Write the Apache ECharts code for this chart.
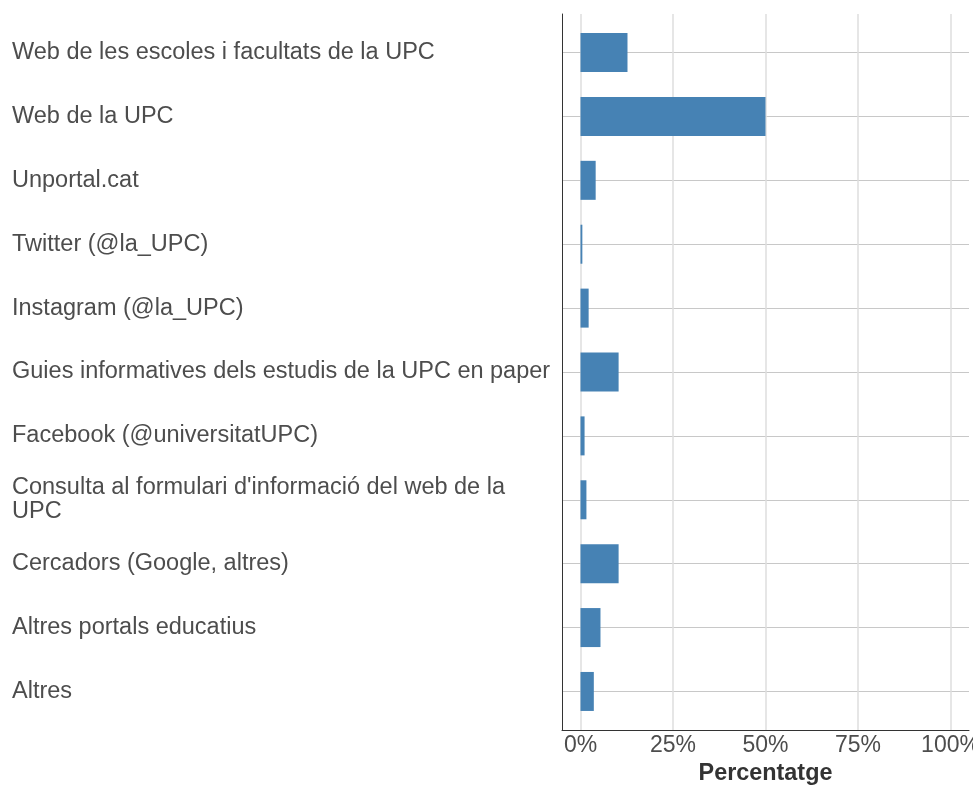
<!DOCTYPE html>
<html>
<head>
<meta charset="utf-8">
<script src="https://cdn.jsdelivr.net/npm/echarts@6/dist/echarts.min.js"></script>
<style>
  html, body { margin: 0; padding: 0; background: #fff; }
  #chart { width: 973px; height: 785px; }
</style>
</head>
<body>
<div id="chart"></div>
<script>
var categories = [
  'Web de les escoles i facultats de la UPC',
  'Web de la UPC',
  'Unportal.cat',
  'Twitter (@la_UPC)',
  'Instagram (@la_UPC)',
  'Guies informatives dels estudis de la UPC en paper',
  'Facebook (@universitatUPC)',
  "Consulta al formulari d'informació del web de la UPC",
  'Cercadors (Google, altres)',
  'Altres portals educatius',
  'Altres'
];
var percentValues = [12.7, 50, 4.1, 0.5, 2.2, 10.3, 1.1, 1.6, 10.3, 5.4, 3.6];
var xTicks = [0, 25, 50, 75, 100];

var font = '"Liberation Sans", Arial, sans-serif';
var chart = echarts.init(document.getElementById('chart'));

var option = {
  animation: false,
  textStyle: { fontFamily: font },
  grid: [
    // outer frame: axis lines, x ticks
    { left: 562, right: 4, top: 14, bottom: 55, containLabel: false, outerBoundsMode: 'none' },
    // bars + categories (inset by the discrete axis padding)
    { left: 562, right: 4, top: 20.6, bottom: 61.6, containLabel: false, outerBoundsMode: 'none' }
  ],
  xAxis: [{
    gridIndex: 0,
    type: 'value',
    min: -5,
    max: 105,
    axisLine: { show: true, onZero: false, lineStyle: { color: '#333', width: 1 } },
    axisTick: { show: false, customValues: xTicks },
    axisLabel: {
      customValues: xTicks,
      formatter: '{value}%',
      color: '#4d4d4d',
      fontSize: 23,
      margin: 4
    },
    splitLine: { show: true, lineStyle: { color: '#dedede', width: 1.5 } },
    name: 'Percentatge',
    nameLocation: 'middle',
    nameGap: 31,
    nameTextStyle: { color: '#333', fontSize: 23.4, fontWeight: 'bold' }
  }, {
    gridIndex: 1,
    type: 'value',
    min: -5,
    max: 105,
    show: false
  }],
  yAxis: [{
    gridIndex: 0,
    type: 'value',
    min: 0,
    max: 1,
    axisLine: { show: true, onZero: false, lineStyle: { color: '#333', width: 1 } },
    axisTick: { show: false },
    axisLabel: { show: false },
    splitLine: { show: false }
  }, {
    gridIndex: 1,
    type: 'category',
    inverse: true,
    data: categories,
    axisLine: { show: false },
    axisTick: { show: false },
    axisLabel: {
      margin: 550,
      align: 'left',
      color: '#4d4d4d',
      fontSize: 23.5,
      lineHeight: 24,
      width: 545,
      overflow: 'break'
    },
    splitLine: { show: true, alignWithLabel: true, lineStyle: { color: '#c8c8c8', width: 1 } }
  }],
  series: [{
    type: 'bar',
    xAxisIndex: 1,
    yAxisIndex: 1,
    barWidth: 39,
    itemStyle: { color: '#4682b4' },
    data: percentValues
  }]
};

chart.setOption(option);
</script>
</body>
</html>
